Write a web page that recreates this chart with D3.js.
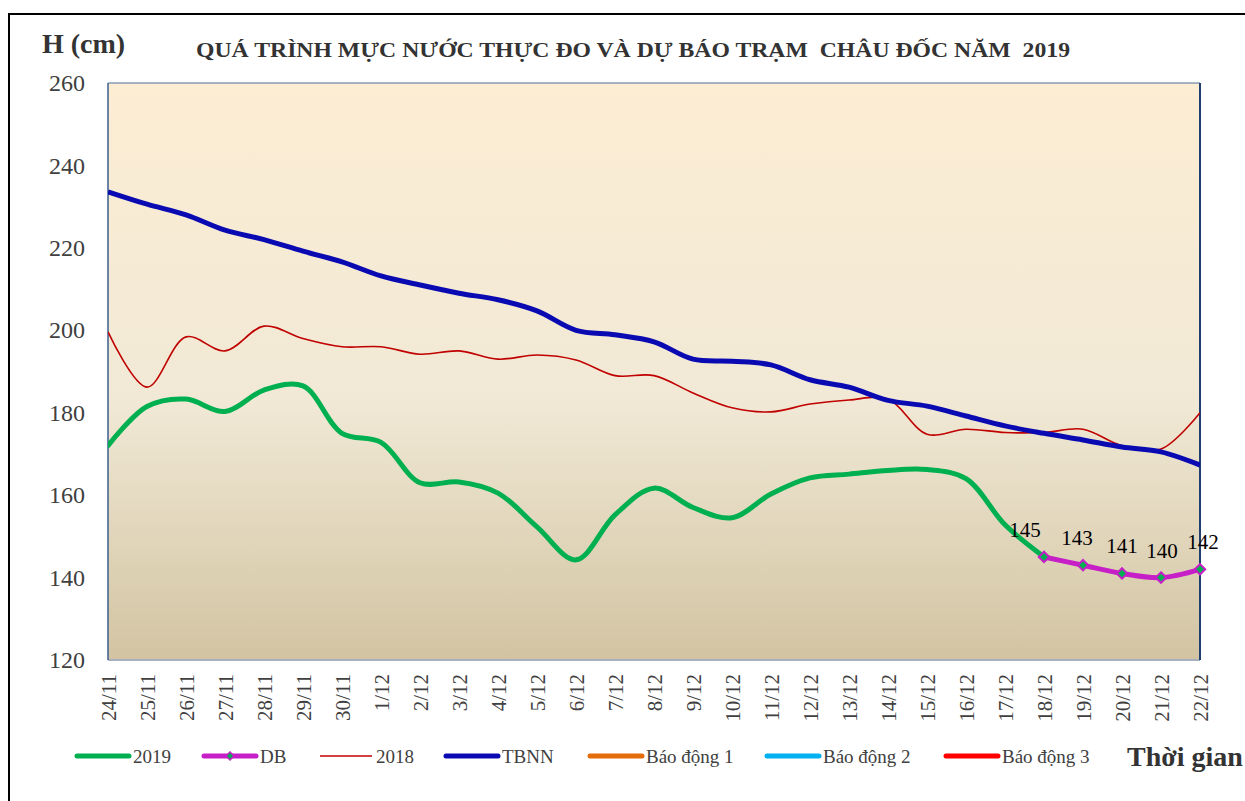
<!DOCTYPE html>
<html>
<head>
  <meta charset="utf-8">
  <script src="https://cdn.jsdelivr.net/npm/d3@7/dist/d3.min.js"></script>
  <style>
    body { margin: 0; background: #fff; }
    text { font-family: "Liberation Serif", "Times New Roman", serif; }
  </style>
</head>
<body>
<script>
  // categories (dates)
  var dates = ["24/11","25/11","26/11","27/11","28/11","29/11","30/11","1/12","2/12","3/12",
               "4/12","5/12","6/12","7/12","8/12","9/12","10/12","11/12","12/12","13/12",
               "14/12","15/12","16/12","17/12","18/12","19/12","20/12","21/12","22/12"]

  // observed 2019 (up to 18/12)
  var obs2019 = [172, 181.5, 183.3, 180.3, 185.5, 186.5, 175, 172.8, 163, 163.2,
                 160.5, 152.3, 144.3, 155.2, 161.7, 157, 154.5, 160.3, 164.2, 165.1,
                 166, 166.2, 164, 152.8, 145, null, null, null, null]

  // forecast DB (18/12 .. 22/12)
  var forecast = [null, null, null, null, null, null, null, null, null, null,
                  null, null, null, null, null, null, null, null, null, null,
                  null, null, null, null, 145, 143, 141, 140, 142]

  var y2018 = [199.6, 186.2, 198.4, 195, 201, 198, 196, 196, 194.2, 195,
               193, 194, 192.8, 189, 189, 184.8, 181.2, 180.2, 182.1, 183.1,
               183.3, 174.8, 176, 175.2, 175.2, 176, 172, 171.2, 180]

  var tbnn = [233.6, 230.6, 228, 224.3, 222, 219.2, 216.6, 213.2, 211, 209,
              207.4, 204.7, 200, 198.9, 197.2, 193, 192.5, 191.6, 188, 186.2,
              183, 181.6, 179.2, 176.8, 175, 173.4, 171.7, 170.5, 167.3]

  // alarm levels (off the top of the chart)
  var alarm1 = 350, alarm2 = 400, alarm3 = 450

  var yTicks = [120, 140, 160, 180, 200, 220, 240, 260]

  var W = 1245, H = 801
  var pL = 108, pR = 1200, pT = 83, pB = 660

  var svg = d3.select("body").append("svg")
              .attr("width", W)
              .attr("height", H)

  // outer frame
  svg.append("rect")
     .attr("x", 9).attr("y", 14)
     .attr("width", W).attr("height", H)
     .attr("fill", "none")
     .attr("stroke", "#000")
     .attr("stroke-width", 2)

  var defs = svg.append("defs")
  var grad = defs.append("linearGradient")
                 .attr("id", "bg")
                 .attr("x1", 0).attr("y1", 0).attr("x2", 0).attr("y2", 1)
  grad.append("stop").attr("offset", "0%").attr("stop-color", "#FCEDD3")
  grad.append("stop").attr("offset", "55%").attr("stop-color", "#F1E9D6")
  grad.append("stop").attr("offset", "100%").attr("stop-color", "#D2C4A2")

  defs.append("clipPath").attr("id", "clip")
      .append("rect")
      .attr("x", pL).attr("y", pT)
      .attr("width", pR - pL).attr("height", pB - pT)

  var x = d3.scalePoint()
            .domain(dates)
            .range([pL, pR])

  var y = d3.scaleLinear()
            .domain([120, 260])
            .range([pB, pT])

  svg.append("rect")
     .attr("x", pL).attr("y", pT)
     .attr("width", pR - pL).attr("height", pB - pT)
     .attr("fill", "url(#bg)")

  // plot border
  svg.append("line").attr("x1", pL).attr("x2", pR).attr("y1", pB).attr("y2", pB)
     .attr("stroke", "#A7B0BE").attr("stroke-width", 2)
  svg.append("line").attr("x1", pL).attr("x2", pR).attr("y1", pT).attr("y2", pT)
     .attr("stroke", "#4F6E9C").attr("stroke-width", 1)
  svg.append("line").attr("x1", pL).attr("x2", pL).attr("y1", pT).attr("y2", pB)
     .attr("stroke", "#3B5E8F").attr("stroke-width", 1.5)
  svg.append("line").attr("x1", pR).attr("x2", pR).attr("y1", pT).attr("y2", pB)
     .attr("stroke", "#1F3F6F").attr("stroke-width", 2)

  // y axis labels
  svg.append("g")
     .attr("transform", "translate(" + (pL - 23) + ",0)")
     .call(d3.axisLeft(y).tickValues(yTicks).tickSize(0).tickPadding(0))
     .call(function(g) {
       g.select(".domain").remove()
       g.selectAll("text")
        .attr("font-size", 24)
        .attr("fill", "#404040")
        .attr("font-family", "Liberation Serif")
     })

  // x axis labels (rotated)
  var xAxis = svg.append("g")
     .attr("transform", "translate(0," + pB + ")")
     .call(d3.axisBottom(x).tickSize(0).tickPadding(0))
  xAxis.select(".domain").remove()
  xAxis.selectAll("text")
       .attr("font-size", 21)
       .attr("fill", "#404040")
       .attr("font-family", "Liberation Serif")
       .attr("text-anchor", "end")
       .attr("transform", "rotate(-90)")
       .attr("x", -14)
       .attr("y", 0)
       .attr("dy", "0.35em")

  function lineFor(arr) {
    return d3.line()
             .defined(function(d) { return d != null })
             .x(function(d, i) { return x(dates[i]) })
             .y(function(d) { return y(d) })
             .curve(d3.curveCatmullRom.alpha(0.5))(arr)
  }

  var plot = svg.append("g").attr("clip-path", "url(#clip)")

  // alarm lines (above 260, clipped)
  var alarms = [[alarm1, "#E46C0A"], [alarm2, "#00B0F0"], [alarm3, "#FF0000"]]
  alarms.forEach(function(a) {
    plot.append("line")
        .attr("x1", pL).attr("x2", pR)
        .attr("y1", y(a[0])).attr("y2", y(a[0]))
        .attr("stroke", a[1]).attr("stroke-width", 4)
  })

  plot.append("path")
      .attr("d", lineFor(y2018))
      .attr("fill", "none")
      .attr("stroke", "#C00000")
      .attr("stroke-width", 1.6)

  plot.append("path")
      .attr("d", lineFor(tbnn))
      .attr("fill", "none")
      .attr("stroke", "#0A0AB2")
      .attr("stroke-width", 5)

  plot.append("path")
      .attr("d", lineFor(obs2019))
      .attr("fill", "none")
      .attr("stroke", "#00B050")
      .attr("stroke-width", 5)
      .attr("stroke-linecap", "round")

  svg.append("path")
      .attr("d", lineFor(forecast))
      .attr("fill", "none")
      .attr("stroke", "#C71FC7")
      .attr("stroke-width", 5)

  var fpts = forecast.map(function(d, i) { return {v: d, i: i} })
                     .filter(function(d) { return d.v != null })

  var diamond = d3.symbol().type(d3.symbolDiamond2).size(70)

  svg.selectAll(".mk")
     .data(fpts)
     .enter()
     .append("path")
     .attr("class", "mk")
     .attr("d", diamond)
     .attr("transform", function(d) { return "translate(" + x(dates[d.i]) + "," + y(d.v) + ")" })
     .attr("fill", "#00B050")
     .attr("stroke", "#C71FC7")
     .attr("stroke-width", 2)

  var labelDx = [-19, -6, 0, 1, 3]
  svg.selectAll(".lbl")
     .data(fpts)
     .enter()
     .append("text")
     .attr("class", "lbl")
     .attr("x", function(d, k) { return x(dates[d.i]) + labelDx[k] })
     .attr("y", function(d) { return y(d.v) - 20 })
     .attr("text-anchor", "middle")
     .attr("font-size", 21)
     .attr("fill", "#000")
     .text(function(d) { return d.v })

  // titles
  svg.append("text")
     .attr("x", 42).attr("y", 53)
     .attr("font-size", 28)
     .attr("font-weight", "bold")
     .attr("fill", "#333")
     .text("H (cm)")

  svg.append("text")
     .attr("x", 196).attr("y", 57)
     .attr("font-size", 22)
     .attr("font-weight", "bold")
     .attr("fill", "#333")
     .attr("textLength", 874)
     .attr("lengthAdjust", "spacingAndGlyphs")
     .style("white-space", "pre")
     .text("QUÁ TRÌNH MỰC NƯỚC THỰC ĐO VÀ DỰ BÁO TRẠM  CHÂU ĐỐC NĂM  2019")

  // legend
  var legendItems = [
    {name: "2019", color: "#00B050", w: 5, x: 77},
    {name: "DB", color: "#C71FC7", w: 5, x: 204, marker: true},
    {name: "2018", color: "#C00000", w: 1.6, x: 320},
    {name: "TBNN", color: "#0A0AB2", w: 5, x: 446},
    {name: "Báo động 1", color: "#E46C0A", w: 5, x: 590},
    {name: "Báo động 2", color: "#00B0F0", w: 5, x: 767},
    {name: "Báo động 3", color: "#FF0000", w: 5, x: 946}
  ]
  var ly = 756
  var lg = svg.selectAll(".lg")
              .data(legendItems)
              .enter()
              .append("g")
              .attr("class", "lg")
  lg.append("line")
    .attr("x1", function(d) { return d.x })
    .attr("x2", function(d) { return d.x + 52 })
    .attr("y1", ly).attr("y2", ly)
    .attr("stroke", function(d) { return d.color })
    .attr("stroke-width", function(d) { return d.w })
    .attr("stroke-linecap", function(d) { return d.w > 2 ? "round" : "butt" })
  lg.filter(function(d) { return d.marker })
    .append("path")
    .attr("d", d3.symbol().type(d3.symbolDiamond2).size(40))
    .attr("transform", function(d) { return "translate(" + (d.x + 26) + "," + ly + ")" })
    .attr("fill", "#00B050")
    .attr("stroke", "#C71FC7")
    .attr("stroke-width", 1.5)
  lg.append("text")
    .attr("x", function(d) { return d.x + 56 })
    .attr("y", ly + 7)
    .attr("font-size", 19)
    .attr("fill", "#404040")
    .text(function(d) { return d.name })

  svg.append("text")
     .attr("x", 1127).attr("y", 766)
     .attr("font-size", 28)
     .attr("font-weight", "bold")
     .attr("fill", "#333")
     .text("Thời gian")
</script>
</body>
</html>
